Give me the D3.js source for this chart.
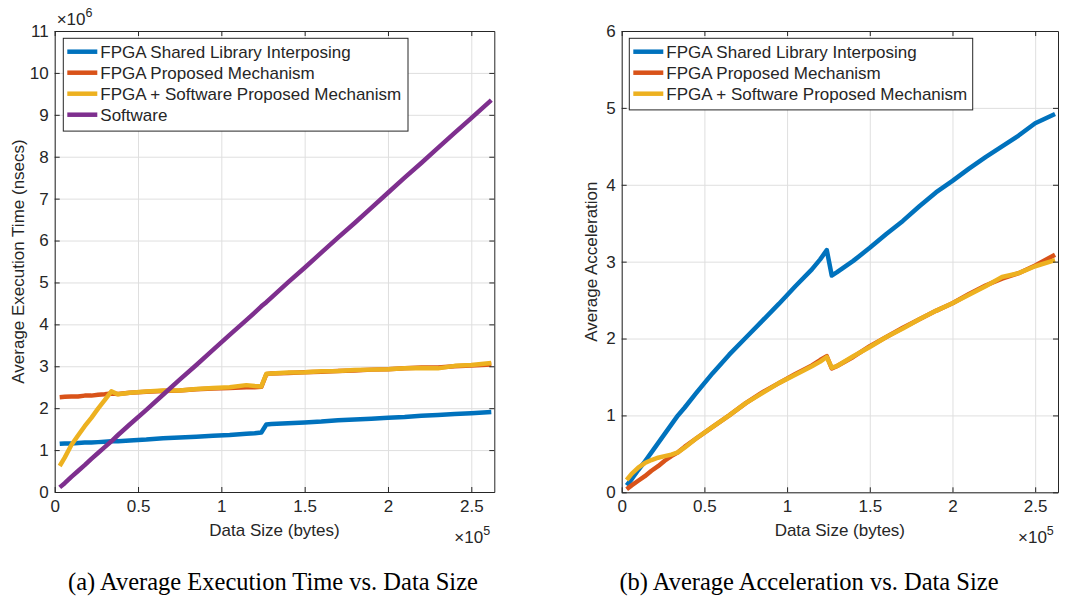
<!DOCTYPE html>
<html>
<head>
<meta charset="utf-8">
<script src="https://cdn.jsdelivr.net/npm/d3@7"></script>
<style>
  body { margin: 0; background: #fff; }
  svg text { font-family: "Liberation Sans", Arial, Helvetica, sans-serif; fill: #262626; }
  .caption { font-family: "Liberation Serif", "Times New Roman", serif !important; fill: #000 !important; }
</style>
</head>
<body>
<script>
'use strict';

// data size in bytes (shared by both panels)
const dataSizes = [3000, 6000, 10000, 14000, 18000, 22000, 26000, 30000, 34000, 38000,
  45000, 55000, 65000, 75000, 85000, 95000, 105000, 115000, 120000, 124000,
  127000, 130000, 140000, 150000, 160000, 170000, 180000, 190000, 200000, 210000,
  220000, 230000, 240000, 250000, 262000];

// (a) average execution time, x10^6 nsecs
const timeShared = [1.15, 1.16, 1.16, 1.17, 1.18, 1.18, 1.19, 1.20, 1.21, 1.21,
  1.23, 1.25, 1.28, 1.30, 1.32, 1.34, 1.36, 1.39, 1.40, 1.42,
  1.61, 1.62, 1.64, 1.66, 1.68, 1.71, 1.73, 1.75, 1.77, 1.79,
  1.82, 1.84, 1.86, 1.88, 1.91];
const timeProposed = [2.26, 2.27, 2.28, 2.28, 2.30, 2.30, 2.32, 2.33, 2.35, 2.34,
  2.37, 2.39, 2.41, 2.42, 2.45, 2.47, 2.48, 2.50, 2.50, 2.51,
  2.81, 2.83, 2.84, 2.86, 2.87, 2.89, 2.90, 2.92, 2.93, 2.95,
  2.97, 2.97, 3.00, 3.02, 3.04];
const timeHybrid = [0.62, 0.82, 1.12, 1.35, 1.57, 1.77, 1.99, 2.19, 2.40, 2.33,
  2.37, 2.40, 2.42, 2.42, 2.46, 2.48, 2.50, 2.55, 2.53, 2.52,
  2.82, 2.83, 2.85, 2.86, 2.88, 2.89, 2.91, 2.92, 2.93, 2.95,
  2.96, 2.95, 3.01, 3.03, 3.08];
const timeSoftware = [0.11, 0.21, 0.36, 0.50, 0.64, 0.79, 0.93, 1.07, 1.21, 1.36,
  1.61, 1.96, 2.32, 2.68, 3.03, 3.39, 3.75, 4.10, 4.28, 4.43,
  4.53, 4.64, 5.00, 5.35, 5.71, 6.07, 6.42, 6.78, 7.14, 7.50,
  7.85, 8.21, 8.57, 8.92, 9.35];

// (b) average acceleration
const accShared = [0.09, 0.17, 0.29, 0.40, 0.52, 0.64, 0.76, 0.88, 1.00, 1.10,
  1.29, 1.55, 1.79, 2.01, 2.23, 2.45, 2.68, 2.90, 3.03, 3.15,
  2.82, 2.86, 3.01, 3.18, 3.36, 3.53, 3.72, 3.90, 4.05, 4.21,
  4.36, 4.50, 4.64, 4.80, 4.92];
const accProposed = [0.04, 0.09, 0.15, 0.21, 0.28, 0.34, 0.41, 0.47, 0.52, 0.59,
  0.70, 0.85, 1.00, 1.16, 1.30, 1.42, 1.54, 1.65, 1.72, 1.77,
  1.61, 1.64, 1.76, 1.90, 2.02, 2.14, 2.25, 2.36, 2.46, 2.58,
  2.69, 2.78, 2.85, 2.95, 3.09];
const accHybrid = [0.16, 0.24, 0.32, 0.38, 0.42, 0.45, 0.47, 0.49, 0.52, 0.58,
  0.70, 0.85, 1.00, 1.16, 1.29, 1.42, 1.53, 1.64, 1.70, 1.76,
  1.62, 1.64, 1.77, 1.89, 2.02, 2.13, 2.25, 2.36, 2.46, 2.57,
  2.68, 2.80, 2.85, 2.94, 3.02];

const seriesNames = ['FPGA Shared Library Interposing', 'FPGA Proposed Mechanism',
  'FPGA + Software Proposed Mechanism', 'Software'];
const seriesColors = ['#0072BD', '#D95319', '#EDB120', '#7E2F8E'];

const xTicks = [0, 50000, 100000, 150000, 200000, 250000];

const W = 1066, H = 601;
const svg = d3.select('body').append('svg').attr('width', W).attr('height', H);

function panel(cfg) {
  const x = d3.scaleLinear().domain([0, 263800]).range([cfg.left, cfg.right]);
  const y = d3.scaleLinear().domain(cfg.yDomain).range([cfg.bottom, cfg.top]);
  const g = svg.append('g');
  const axisColor = '#262626';

  // grid
  g.append('g')
      .attr('transform', `translate(0,${cfg.bottom})`)
      .call(d3.axisBottom(x).tickValues(xTicks).tickSize(-(cfg.bottom - cfg.top)).tickFormat(''))
      .call(s => s.select('.domain').remove())
      .call(s => s.selectAll('line').attr('stroke', '#dfdfdf').attr('stroke-width', 1));
  g.append('g')
      .attr('transform', `translate(${cfg.left},0)`)
      .call(d3.axisLeft(y).tickValues(cfg.yTicks).tickSize(-(cfg.right - cfg.left)).tickFormat(''))
      .call(s => s.select('.domain').remove())
      .call(s => s.selectAll('line').attr('stroke', '#dfdfdf').attr('stroke-width', 1));

  // lines
  const line = d3.line().x((d, i) => x(dataSizes[i])).y(d => y(d));
  cfg.series.forEach((vals, k) => {
    g.append('path')
        .attr('d', line(vals))
        .attr('fill', 'none')
        .attr('stroke', seriesColors[k])
        .attr('stroke-width', 4.5)
        .attr('stroke-linejoin', 'round');
  });

  // axes with inward ticks on all sides
  const styleAxis = s => {
    s.select('.domain').attr('stroke', axisColor).attr('stroke-width', 1);
    s.selectAll('.tick line').attr('stroke', axisColor);
    s.selectAll('text').style('font-size', '17px').attr('fill', axisColor);
  };
  g.append('g')
      .attr('transform', `translate(0,${cfg.bottom})`)
      .call(d3.axisBottom(x).tickValues(xTicks).tickSizeInner(-5).tickSizeOuter(0).tickPadding(8)
          .tickFormat(d => d / 1e5))
      .call(styleAxis);
  g.append('g')
      .attr('transform', `translate(0,${cfg.top})`)
      .call(d3.axisTop(x).tickValues(xTicks).tickSizeInner(-5).tickSizeOuter(0).tickFormat(''))
      .call(styleAxis);
  g.append('g')
      .attr('transform', `translate(${cfg.left},0)`)
      .call(d3.axisLeft(y).tickValues(cfg.yTicks).tickSizeInner(-5).tickSizeOuter(0).tickPadding(6)
          .tickFormat(d3.format('d')))
      .call(styleAxis);
  g.append('g')
      .attr('transform', `translate(${cfg.right},0)`)
      .call(d3.axisRight(y).tickValues(cfg.yTicks).tickSizeInner(-5).tickSizeOuter(0).tickFormat(''))
      .call(styleAxis);

  // axis labels
  const midX = (cfg.left + cfg.right) / 2;
  g.append('text')
      .attr('x', midX).attr('y', 536)
      .attr('text-anchor', 'middle')
      .style('font-size', '17px')
      .text('Data Size (bytes)');
  g.append('text')
      .attr('transform', `translate(${cfg.left - cfg.yLabelOff},${(cfg.top + cfg.bottom) / 2}) rotate(-90)`)
      .attr('text-anchor', 'middle')
      .style('font-size', '17px')
      .text(cfg.yLabel);

  // x exponent
  const ex = g.append('text').attr('x', cfg.right - 40).attr('y', 543).style('font-size', '17px');
  ex.append('tspan').text('\u00d710');
  ex.append('tspan').attr('dy', -8).style('font-size', '12.5px').text('5');

  if (cfg.yExp) {
    const ey = g.append('text').attr('x', cfg.left + 2).attr('y', 25).style('font-size', '17px');
    ey.append('tspan').text('\u00d710');
    ey.append('tspan').attr('dy', -8).style('font-size', '12.5px').text(cfg.yExp);
  }

  // legend
  const lg = g.append('g').attr('transform', `translate(${cfg.legend.x},${cfg.legend.y})`);
  const n = cfg.series.length;
  lg.append('rect')
      .attr('width', cfg.legend.w).attr('height', 8 + n * 21.2)
      .attr('fill', '#fff').attr('stroke', axisColor).attr('stroke-width', 1);
  for (let k = 0; k < n; k++) {
    const yy = 13.4 + k * 21;
    lg.append('line')
        .attr('x1', 4).attr('x2', 34).attr('y1', yy).attr('y2', yy)
        .attr('stroke', seriesColors[k]).attr('stroke-width', 4.5);
    lg.append('text')
        .attr('x', 37).attr('y', yy + 6)
        .style('font-size', '17px')
        .text(seriesNames[k]);
  }

  // caption
  svg.append('text')
      .attr('class', 'caption')
      .attr('x', cfg.captionX).attr('y', 590)
      .attr('text-anchor', 'middle')
      .style('font-size', '24.5px')
      .text(cfg.caption);
}

panel({
  left: 54.7, right: 494.3, top: 31, bottom: 492,
  yDomain: [0, 11], yTicks: d3.range(0, 12),
  series: [timeShared, timeProposed, timeHybrid, timeSoftware],
  yLabel: 'Average Execution Time (nsecs)', yLabelOff: 31, yExp: '6',
  legend: { x: 63.3, y: 38.3, w: 344.7 },
  caption: '(a) Average Execution Time vs. Data Size', captionX: 273
});

panel({
  left: 621.7, right: 1058, top: 31, bottom: 492.3,
  yDomain: [0, 6], yTicks: d3.range(0, 7),
  series: [accShared, accProposed, accHybrid],
  yLabel: 'Average Acceleration', yLabelOff: 25,
  legend: { x: 629.3, y: 38.3, w: 343.4 },
  caption: '(b) Average Acceleration vs. Data Size', captionX: 809
});
</script>
</body>
</html>
